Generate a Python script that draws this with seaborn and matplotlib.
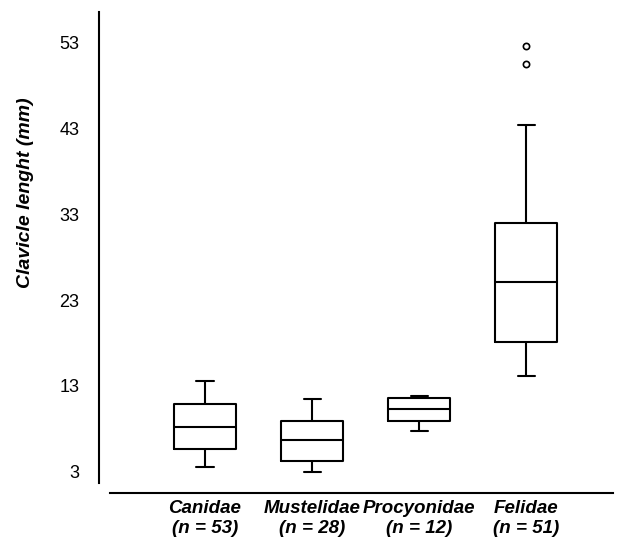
import numpy as np
import pandas as pd
import matplotlib
matplotlib.use("Agg")
import matplotlib.pyplot as plt
import seaborn as sns

# five-number summaries (mm)
families = ["Canidae", "Mustelidae", "Procyonidae", "Felidae"]
tick_labels = ["Canidae\n(n = 53)", "Mustelidae\n(n = 28)",
               "Procyonidae\n(n = 12)", "Felidae\n(n = 51)"]
whisker_low = [3.5, 3.0, 7.7, 14.2]
q1 = [5.6, 4.3, 8.9, 18.1]
median = [8.2, 6.7, 10.3, 25.1]
q3 = [10.9, 8.9, 11.6, 32.0]
whisker_high = [13.6, 11.5, 11.8, 43.4]

outlier_family = ["Felidae", "Felidae"]
outlier_values = [52.6, 50.5]

yticks = [3, 13, 23, 33, 43, 53]

sns.set_style("white")
plt.rcParams["font.family"] = ["Liberation Sans", "DejaVu Sans"]
plt.rcParams["text.color"] = "black"
plt.rcParams["axes.labelcolor"] = "black"
plt.rcParams["xtick.color"] = "black"
plt.rcParams["ytick.color"] = "black"


def summary_frame():
    rows = []
    for i, fam in enumerate(families):
        for v in (whisker_low[i], q1[i], median[i], q3[i], whisker_high[i]):
            rows.append({"family": fam, "length": v})
    return pd.DataFrame(rows)


def main():
    df = summary_frame()
    out = pd.DataFrame({"family": outlier_family, "length": outlier_values})

    fig = plt.figure(figsize=(6.3, 5.39), dpi=100)
    ax = fig.add_axes([0.1571, 0.1039, 0.8159, 0.8738])

    sns.boxplot(data=df, x="family", y="length", order=families,
                whis=(0, 100), fill=False, color="black", linewidth=1.5,
                width=0.58, capwidths=0.16, ax=ax)
    sns.stripplot(data=out, x="family", y="length", order=families,
                  jitter=False, color="white", edgecolor="black",
                  linewidth=1.2, size=4.5, ax=ax)

    # spine position resets the ticks, so do it before styling labels
    for side in ("top", "right"):
        ax.spines[side].set_visible(False)
    ax.spines["left"].set_linewidth(1.5)
    ax.spines["left"].set_color("black")
    ax.spines["bottom"].set_linewidth(1.5)
    ax.spines["bottom"].set_color("black")
    ax.spines["bottom"].set_position(("outward", 7.5))
    ax.spines["bottom"].set_bounds(-0.89, 3.81)

    ax.set_xlim(-0.99, 3.81)
    ax.set_ylim(1.68, 56.58)
    ax.set_yticks(yticks)
    ax.set_yticklabels([str(t) for t in yticks], fontsize=13)
    ax.set_xticks(range(len(families)))
    ax.set_xticklabels(tick_labels, fontsize=13.5, fontweight="bold",
                       fontstyle="italic")
    ax.tick_params(axis="both", length=0, colors="black")
    ax.tick_params(axis="y", pad=14)
    ax.tick_params(axis="x", pad=5)

    ax.set_xlabel("")
    ax.set_ylabel("Clavicle lenght (mm)", fontsize=14, fontweight="bold",
                  fontstyle="italic")
    ax.yaxis.set_label_coords(-0.126, 0.616)

    fig.savefig("out.png", dpi=100)
    plt.close(fig)


if __name__ == "__main__":
    main()
